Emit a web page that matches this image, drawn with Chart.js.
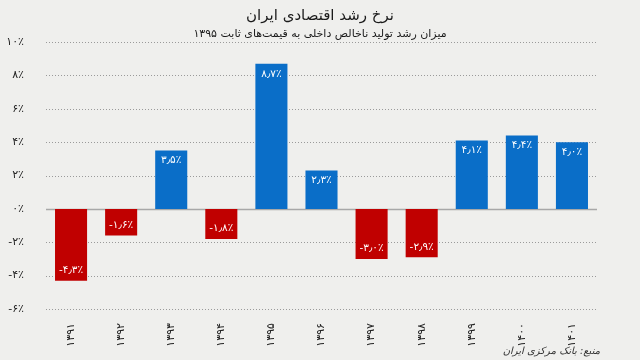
<!DOCTYPE html>
<html><head><meta charset="utf-8">
<script src="https://cdn.jsdelivr.net/npm/chart.js@4/dist/chart.umd.min.js"></script>
<style>
html,body{margin:0;padding:0;background:#efefed;}
#wrap{width:640px;height:360px;position:relative;}
</style></head>
<body><div id="wrap"><canvas id="c" width="640" height="360"></canvas></div>
<script>
const years = ['۱۳۹۱','۱۳۹۲','۱۳۹۳','۱۳۹۴','۱۳۹۵','۱۳۹۶','۱۳۹۷','۱۳۹۸','۱۳۹۹','۱۴۰۰','۱۴۰۱'];
const growth = [-4.3, -1.6, 3.5, -1.8, 8.7, 2.3, -3.0, -2.9, 4.1, 4.4, 4.0];
const yTicks = [-6, -4, -2, 0, 2, 4, 6, 8, 10];
const titleText = 'نرخ رشد اقتصادی ایران';
const subtitleText = 'میزان رشد تولید ناخالص داخلی به قیمت‌های ثابت ۱۳۹۵';
const sourceText = 'منبع: بانک مرکزی ایران';

const FONT = '"DejaVu Sans", sans-serif';
function fa(s){return String(s).replace(/[0-9]/g,d=>'۰۱۲۳۴۵۶۷۸۹'[d]);}
function pct(v,dec){
  const neg = v<0; const a=Math.abs(v);
  let s = dec ? a.toFixed(1).replace('.', '٫') : String(a);
  return (neg?'-':'') + fa(s) + '٪';
}
const RED='#c00000', BLUE='#0a6ec8';

const textPlugin = {
  id:'texts',
  beforeDatasetsDraw(chart){
    const y=chart.scales.y; const a=chart.chartArea; const ctx=chart.ctx;
    ctx.save();
    yTicks.forEach(v=>{
      const py=Math.round(y.getPixelForValue(v))+0.5;
      ctx.beginPath();
      if(v===0){ctx.setLineDash([]);ctx.strokeStyle='#a8a8a8';ctx.lineWidth=1.5;}
      else{ctx.setLineDash([1,2]);ctx.strokeStyle='#9a9a9a';ctx.lineWidth=1;}
      ctx.moveTo(a.left,py);ctx.lineTo(a.right,py);ctx.stroke();
    });
    ctx.restore();
  },
  afterDraw(chart){
    const ctx=chart.ctx;
    ctx.save();
    ctx.fillStyle='#1a1a1a';
    ctx.textAlign='center';ctx.textBaseline='middle';
    ctx.direction='rtl';
    ctx.font='15px '+FONT;
    ctx.fillText(titleText,320,16);
    ctx.font='11px '+FONT;
    ctx.fillText(subtitleText,320,34);
    ctx.font='italic 10px '+FONT;
    ctx.fillStyle='#333';
    ctx.textAlign='right';
    ctx.fillText(sourceText,600,351);
    ctx.restore();
  },
  afterDatasetsDraw(chart){
    const ctx=chart.ctx;
    const meta=chart.getDatasetMeta(0);
    ctx.save();
    ctx.fillStyle='#fff';
    ctx.font='10.5px '+FONT;
    ctx.textAlign='center';ctx.direction='ltr';
    meta.data.forEach((bar,i)=>{
      const v=growth[i];
      const t=pct(v,true);
      if(v>=0){ctx.textBaseline='top';ctx.fillText(t,bar.x,bar.y+5);}
      else{ctx.textBaseline='bottom';ctx.fillText(t,bar.x,bar.y-5);}
    });
    ctx.restore();
  }
};

new Chart(document.getElementById('c'),{
  type:'bar',
  data:{labels:years,datasets:[{data:growth,
    backgroundColor:c=>c.raw<0?RED:BLUE,
    categoryPercentage:1,barPercentage:0.64}]},
  options:{
    responsive:false,animation:false,
    layout:{padding:{top:42,right:43,left:0,bottom:0}},
    plugins:{legend:{display:false},tooltip:{enabled:false}},
    scales:{
      x:{
        grid:{display:false},border:{display:false},
        ticks:{minRotation:90,maxRotation:90,color:'#222',font:{family:FONT,size:11},padding:6},
        afterFit(s){s.height=51;}
      },
      y:{
        min:-6,max:10,
        afterBuildTicks(s){s.ticks=yTicks.map(v=>({value:v}));},
        border:{display:false},
        grid:{display:false},
        ticks:{color:'#222',font:{family:FONT,size:11},padding:14,callback:v=>pct(v,false)},
        afterFit(s){s.width=46;}
      }
    }
  },
  plugins:[textPlugin]
});
</script></body></html>
